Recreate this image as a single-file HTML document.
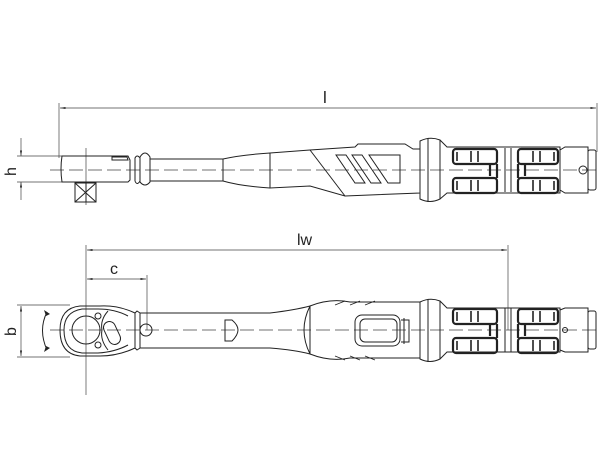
<!DOCTYPE html>
<html><head><meta charset="utf-8"><style>
html,body{margin:0;padding:0;background:#fff;width:600px;height:450px;overflow:hidden}
svg{display:block}
text{font-family:"Liberation Sans",sans-serif;fill:#222}
</style></head><body>
<svg width="600" height="450" viewBox="0 0 600 450" xmlns="http://www.w3.org/2000/svg">
<defs><marker id="a" markerWidth="8" markerHeight="6" refX="8" refY="3" orient="auto-start-reverse"><path d="M0,1.5 L8,3 L0,4.5z" fill="#222"/></marker>
<g id="grip">
<rect x="0" y="0" width="44" height="15" rx="3" stroke-width="2.2"/>
<rect x="0" y="29" width="44" height="15" rx="3" stroke-width="2.2"/>
<path d="M37,15 L37,27 M44,15 L44,29" stroke-width="2.2"/>
<path d="M18,2 L18,13 M25,2 L25,13 M18,31 L18,42 M25,31 L25,42 M4,3 L4,12 M4,32 L4,41" stroke-width="1.6"/>
</g>
<g id="grip2">
<rect x="0" y="0" width="40" height="15" rx="3" stroke-width="2.2"/>
<rect x="0" y="29" width="40" height="15" rx="3" stroke-width="2.2"/>
<path d="M0,15 L0,29 M7,15 L7,27" stroke-width="2.2"/>
<path d="M15,2 L15,13 M22,2 L22,13 M15,31 L15,42 M22,31 L22,42 M36,3 L36,12 M36,32 L36,41" stroke-width="1.6"/>
</g>
</defs>
<g stroke="#444" stroke-width="0.7" fill="none">
<line x1="59" y1="103" x2="59" y2="158"/>
<line x1="597" y1="103" x2="597" y2="152"/>
<line x1="60" y1="108" x2="596" y2="108" marker-start="url(#a)" marker-end="url(#a)"/>
<line x1="17" y1="156" x2="62" y2="156"/>
<line x1="17" y1="182" x2="62" y2="182"/>
<line x1="21" y1="138" x2="21" y2="156" marker-end="url(#a)"/>
<line x1="21" y1="200" x2="21" y2="182" marker-end="url(#a)"/>
<line x1="50" y1="170" x2="600" y2="170" stroke-dasharray="14,5"/>
<line x1="86" y1="245" x2="86" y2="395"/>
<line x1="508" y1="245" x2="508" y2="330"/>
<line x1="87" y1="250" x2="507" y2="250" marker-start="url(#a)" marker-end="url(#a)"/>
<line x1="147" y1="275" x2="147" y2="330"/>
<line x1="87" y1="279" x2="146" y2="279" marker-start="url(#a)" marker-end="url(#a)"/>
<line x1="17" y1="305" x2="70" y2="305"/>
<line x1="17" y1="357" x2="70" y2="357"/>
<line x1="21" y1="306" x2="21" y2="356" marker-start="url(#a)" marker-end="url(#a)"/>
<line x1="50" y1="330" x2="600" y2="330" stroke-dasharray="14,5"/>
</g>
<g stroke="#222" stroke-width="1" fill="none">
<path d="M62,156 L128,156 L130,160 L130,180 L128,182 L62,182 Q60,169 62,156z"/>
<path d="M112,157 L127,157 L128,160 L112,160z"/>
<rect x="75" y="183" width="21" height="19"/>
<line x1="86" y1="183" x2="86" y2="202"/><line x1="75" y1="183" x2="96" y2="202"/><line x1="96" y1="183" x2="75" y2="202"/>
<line x1="86" y1="148" x2="86" y2="205" stroke-width="0.6"/>
<path d="M135,158 Q137,154 140,158 L140,181 Q137,186 135,181z"/>
<path d="M140,157 Q145,149 150,157 L150,182 Q145,188 140,182z"/>
<path d="M150,159 L223,159 Q240,155 270,153 L270,188 Q240,186 223,181 L150,181"/>
<line x1="223" y1="159" x2="223" y2="181"/>
<path d="M270,153 L310,150 L355,147 L358,144 L405,144 L413,149 L420,149 L420,193 L345,196 L310,186 L270,188z"/>
<line x1="310" y1="150" x2="345" y2="196"/>
<path d="M336,155 L346,155 L365,183 L355,183z M352,155 L362,155 L381,183 L371,183z M369,155 L400,155 L400,183 L388,183z"/>
<path d="M420,141 Q430,136 440,140 L440,199 Q430,204 420,199z"/>
<line x1="428" y1="138" x2="428" y2="202"/>
<path d="M440,140 L447,147 L560,147 L560,193 L447,193 L440,199"/>
<use href="#grip" x="453" y="149"/>
<use href="#grip2" x="518" y="149"/>
<line x1="505" y1="148" x2="505" y2="192"/><line x1="511" y1="148" x2="511" y2="192"/>
<path d="M560,150 L565,147 L588,147 L588,193 L565,193 L560,190"/>
<rect x="588" y="150" width="8" height="40" rx="2"/>
<circle cx="583" cy="170" r="4"/>
<path d="M135,313 Q118,305 100,306 L80,306 Q60,308 60,330 Q60,354 80,356 L100,356 Q118,356 135,348"/>
<path d="M128,316 Q115,309 98,309 L82,309 Q64,312 64,330 Q64,351 82,353 L98,353 Q115,352 128,345"/>
<circle cx="86" cy="330" r="14"/>
<path d="M108,311 Q100,320 102,330 Q100,340 108,350"/>
<circle cx="98" cy="316" r="3"/><circle cx="98" cy="345" r="3"/>
<rect x="106" y="321" width="12" height="24" rx="6" transform="rotate(-25 112 333)"/>
<path d="M135,313 L137,311 L140,313 L140,348 L137,350 L135,348z"/>
<path d="M140,313 L270,313 Q295,310 310,306 L310,354 Q295,350 270,348 L140,348z"/>
<circle cx="146" cy="330" r="6"/>
<path d="M225,320 L232,320 Q238,325 238,330 Q238,335 232,341 L225,341z"/>
<path d="M310,306 Q330,298 350,302 L420,302 L420,358 L350,358 Q330,362 310,354"/>
<path d="M310,306 Q298,330 310,354"/>
<path d="M335,305 L345,301 M350,305 L360,301 M365,305 L375,301 M335,356 L345,360 M350,356 L360,360 M365,356 L375,360" stroke-width="0.8"/>
<rect x="355" y="315" width="45" height="31" rx="7"/>
<rect x="360" y="319" width="37" height="23" rx="5"/>
<path d="M401,320 L409,320 L409,342 L401,342 M404,318 L404,344"/>
<path d="M420,302 Q430,297 440,301 L440,359 Q430,364 420,359z"/>
<line x1="428" y1="299" x2="428" y2="362"/>
<path d="M440,301 L447,308 L560,308 L560,352 L447,352 L440,359"/>
<use href="#grip" x="453" y="309"/>
<use href="#grip2" x="518" y="309"/>
<line x1="505" y1="308" x2="505" y2="352"/><line x1="511" y1="308" x2="511" y2="352"/>
<path d="M560,310 L565,308 L588,308 L588,352 L565,352 L560,350"/>
<rect x="588" y="311" width="8" height="38" rx="2"/>
<circle cx="565" cy="330" r="2.5"/>
<path d="M47,312 Q38,330 47,350" stroke-width="1"/>
</g>
<path d="M44,310 L50,314 L46,316z M44,352 L50,348 L46,346z" fill="#222"/>
<text x="323" y="103" font-size="17">l</text>
<text x="297" y="245" font-size="16">lw</text>
<text x="110" y="274" font-size="16">c</text>
<text transform="translate(16,176) rotate(-90)" font-size="16">h</text>
<text transform="translate(16,336) rotate(-90)" font-size="16">b</text>
</svg>
</body></html>
